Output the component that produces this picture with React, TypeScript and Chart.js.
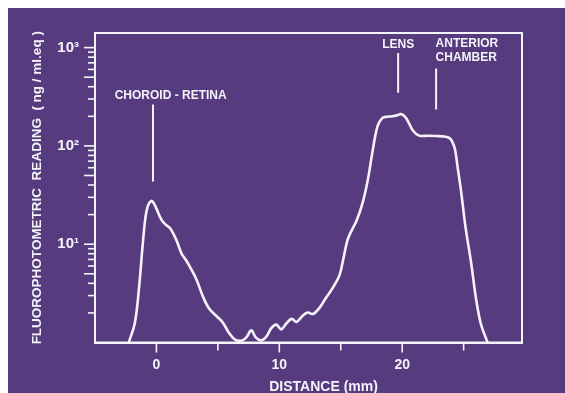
import React, { useEffect, useRef } from 'react';
import { Chart, registerables } from 'chart.js';

Chart.register(...registerables);

// Distance along the eye's optical axis (mm)
const distanceMm = [
  -2.25, -1.75, -1.4, -1.15, -0.9, -0.7, -0.45, -0.25, 0.0, 0.4, 0.75, 1.1, 1.6, 2.05, 2.4, 2.75,
  3.25, 3.8, 4.3, 4.9, 5.4, 5.85, 6.35, 6.9, 7.3, 7.72, 8.1, 8.55, 8.95, 9.35, 9.75, 10.15, 10.55,
  11.0, 11.4, 11.9, 12.3, 12.75, 13.3, 13.8, 14.35, 14.9, 15.2, 15.6, 16.3, 16.8, 17.2, 17.6, 18.0,
  18.4, 18.8, 19.2, 19.6, 19.9, 20.3, 20.9, 21.4, 22.2, 22.8, 23.3, 23.8, 24.05, 24.3, 24.5, 24.8,
  25.15, 25.6, 26.0, 26.4, 26.95,
];

// Fluorophotometric reading (ng/ml.eq)
const readingNgMl = [
  1.0, 1.6, 3.8, 8.9, 18.5, 24.5, 27.5, 26.5, 23, 17.8, 15.8, 14.6, 11.2, 8.0, 6.9, 5.8,
  4.4, 2.9, 2.2, 1.85, 1.6, 1.28, 1.08, 1.04, 1.12, 1.33, 1.12, 1.05, 1.15, 1.4, 1.52, 1.36, 1.55,
  1.74, 1.62, 1.87, 2.02, 1.95, 2.28, 2.85, 3.6, 4.85, 7.0, 11.5, 17.5, 27, 45, 90, 160,
  193, 198, 200, 205, 211, 193, 142, 127, 127, 126, 125, 121, 112, 92, 62, 34,
  15, 6.6, 2.84, 1.55, 1.0,
];

const xTickValues = [0, 5, 10, 15, 20, 25];
const xLabelledTicks = [0, 10, 20];
const yTickValues = [
  2, 3, 4, 5, 6, 7, 8, 9, 10, 20, 30, 40, 50, 60, 70, 80, 90, 100,
  200, 300, 400, 500, 600, 700, 800, 900, 1000,
];
const yTickLabels: Record<number, string> = { 10: '10\u00B9', 100: '10\u00B2', 1000: '10\u00B3' };

// Marker lines (anatomical landmarks)
const markerX = [-0.28, 19.67, 22.76];
const markerFrom = [43.5, 347, 235];
const markerTo = [264, 883, 612];

// Marker captions
const captionText = ['CHOROID - RETINA', 'LENS', 'ANTERIOR', 'CHAMBER'];
const captionX = [-3.4, 19.67, 22.72, 22.72];
const captionY = [324, 1070, 1084, 787];
const captionAlign: CanvasTextAlign[] = ['left', 'center', 'left', 'left'];

const xTitle = 'DISTANCE (mm)';
const xTitleAt = 13.6;
const yTitle = 'FLUOROPHOTOMETRIC  READING  ( ng / ml.eq )';

const INK = '#f5f3f9';
const BG = 'rgb(86, 59, 127)';
const FONT = '"Liberation Sans", Arial, sans-serif';

const slidePlugin = {
  id: 'slide',
  beforeDraw(chart: any) {
    const { ctx, width, height } = chart;
    ctx.save();
    ctx.fillStyle = BG;
    ctx.fillRect(0, 0, width, height);
    ctx.restore();
  },
  afterDraw(chart: any) {
    const { ctx, chartArea: a, scales } = chart;
    const x = scales.x;
    const y = scales.y;
    ctx.save();
    ctx.strokeStyle = INK;
    ctx.lineWidth = 2;
    ctx.strokeRect(a.left, a.top, a.right - a.left, a.bottom - a.top);

    ctx.lineWidth = 1.6;
    y.ticks.forEach((t: any) => {
      const v = t.value;
      const p = y.getPixelForValue(v);
      const mant = Math.round(v / Math.pow(10, Math.floor(Math.log10(v) + 1e-9)));
      const len = mant === 1 || mant === 5 ? 11 : 7;
      ctx.beginPath();
      ctx.moveTo(a.left - len, p);
      ctx.lineTo(a.left, p);
      ctx.stroke();
    });
    x.ticks.forEach((t: any) => {
      const p = x.getPixelForValue(t.value);
      const len = t.value % 10 === 0 ? 10 : 8;
      ctx.beginPath();
      ctx.moveTo(p, a.bottom);
      ctx.lineTo(p, a.bottom + len);
      ctx.stroke();
    });

    ctx.fillStyle = INK;
    ctx.textBaseline = 'middle';
    ctx.font = `bold 12px ${FONT}`;
    captionText.forEach((txt, i) => {
      ctx.textAlign = captionAlign[i];
      ctx.fillText(txt, x.getPixelForValue(captionX[i]), y.getPixelForValue(captionY[i]));
    });

    ctx.font = `bold 14px ${FONT}`;
    ctx.textAlign = 'center';
    ctx.fillText(xTitle, x.getPixelForValue(xTitleAt), x.bottom - 6);
    ctx.restore();
  },
};

export default function App() {
  const ref = useRef<HTMLCanvasElement | null>(null);

  useEffect(() => {
    if (!ref.current) return;
    const curve = distanceMm.map((d, i) => ({ x: d, y: readingNgMl[i] }));
    const markers = markerX.map((mx, i) => ({
      type: 'line' as const,
      data: [
        { x: mx, y: markerFrom[i] },
        { x: mx, y: markerTo[i] },
      ],
      borderColor: INK,
      borderWidth: 2,
      pointRadius: 0,
      tension: 0,
    }));

    const chart = new Chart(ref.current, {
      type: 'line',
      data: {
        datasets: [
          {
            data: curve,
            borderColor: INK,
            borderWidth: 2.6,
            pointRadius: 0,
            tension: 0.35,
            fill: false,
          },
          ...markers,
        ],
      },
      options: {
        animation: false,
        responsive: false,
        devicePixelRatio: 1,
        layout: { padding: { top: 16, right: 43, bottom: 0, left: 0 } },
        plugins: { legend: { display: false }, tooltip: { enabled: false } },
        scales: {
          x: {
            type: 'linear',
            min: -5,
            max: 29.75,
            afterBuildTicks: (s: any) => {
              s.ticks = xTickValues.map((v) => ({ value: v }));
            },
            afterFit: (s: any) => {
              s.height = 50.5;
            },
            grid: { display: false, drawTicks: false },
            border: { display: true, color: INK, width: 2 },
            ticks: {
              color: INK,
              font: { family: FONT, size: 14, weight: 'bold' },
              padding: 14,
              maxRotation: 0,
              autoSkip: false,
              callback: (v: any) => (xLabelledTicks.includes(Number(v)) ? String(v) : ''),
            },
          },
          y: {
            type: 'logarithmic',
            min: 1,
            max: 1408,
            afterBuildTicks: (s: any) => {
              s.ticks = yTickValues.map((v) => ({ value: v }));
            },
            afterFit: (s: any) => {
              s.width = 87;
            },
            grid: { display: false, drawTicks: false },
            border: { display: true, color: INK, width: 2 },
            ticks: {
              color: INK,
              font: { family: FONT, size: 15, weight: 'bold' },
              padding: 16,
              autoSkip: false,
              callback: (v: any) => yTickLabels[Number(v)] ?? '',
            },
            title: {
              display: true,
              text: yTitle,
              color: INK,
              font: { family: FONT, size: 13.5, weight: 'bold', lineHeight: 1 },
              padding: { top: 23, bottom: 0 },
            },
          },
        },
      },
      plugins: [slidePlugin],
    });
    return () => chart.destroy();
  }, []);

  return (
    <div style={{ position: 'fixed', left: 8, top: 8, width: 557, height: 385, background: BG }}>
      <canvas ref={ref} width={557} height={385} style={{ display: 'block', width: 557, height: 385 }} />
    </div>
  );
}
